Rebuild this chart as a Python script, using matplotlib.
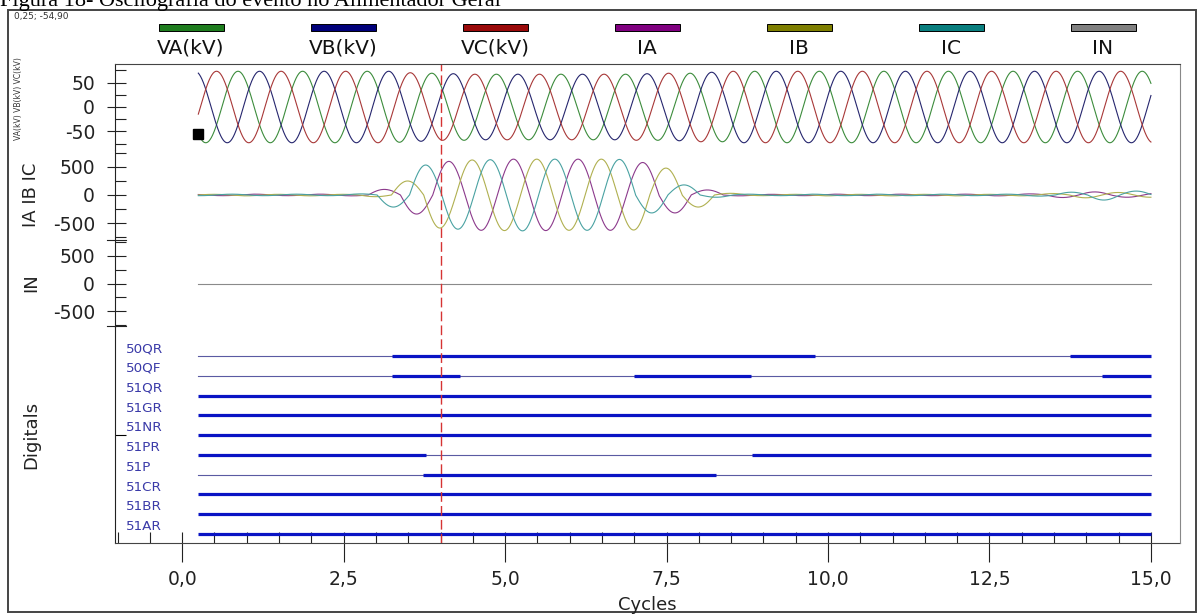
import numpy as np
import matplotlib
matplotlib.use("Agg")
import matplotlib.pyplot as plt
from matplotlib.patches import Rectangle
from matplotlib.lines import Line2D

W, H = 1203, 614

# analog channels, one value per half-cycle lobe (peak)
# each lobe list starts at the last zero crossing at or before t = 0.25 cycle
va_zero, va_sign = 0.115, -1
va_peaks = [73, 73, 73, 73, 73, 73, 72, 69, 68, 67, 67, 67, 67, 67, 68,
            69, 71, 73, 73, 73, 73, 73, 73, 73, 73, 73, 73, 73, 73, 73]
vb_zero, vb_sign = -0.052, 1
vb_peaks = [73, 73, 73, 73, 73, 73, 73, 70, 68, 67, 67, 67, 67, 67, 68,
            69, 71, 73, 73, 73, 73, 73, 73, 73, 73, 73, 73, 73, 73, 73, 73]
vc_zero, vc_sign = -0.218, -1
vc_peaks = [73, 73, 73, 73, 73, 73, 73, 70, 68, 67, 67, 67, 67, 67, 68,
            69, 71, 73, 73, 73, 73, 73, 73, 73, 73, 73, 73, 73, 73, 73, 73]

ia_zero, ia_sign = -0.12, 1
ia_peaks = [12, 12, 15, 12, 15, 15, 100, 340, 600, 630, 640, 635, 640, 630, 580,
            320, 90, 15, 12, 12, 15, 12, 15, 12, 15, 15, 20, 45, 55, 40, 35]
ib_zero, ib_sign = 0.24, 1
ib_peaks = [12, 15, 12, 15, 12, 30, 250, 590, 625, 635, 640, 630, 640, 625, 480,
            215, 30, 12, 12, 15, 12, 15, 12, 15, 12, 15, 25, 50, 45, 40]
ic_zero, ic_sign = 0.02, -1
ic_peaks = [12, 15, 12, 15, 12, 20, 215, 535, 610, 630, 640, 640, 630, 635, 320,
            180, 40, 15, 12, 15, 12, 15, 12, 15, 12, 15, 20, 50, 90, 70]

in_times = [0.25, 15.0]
in_values = [0.0, 0.0]

# digital channels: state at start and the times where they toggle
dig_names = ["50QR", "50QF", "51QR", "51GR", "51NR", "51PR", "51P", "51CR", "51BR", "51AR"]
dig_start = [0, 0, 1, 1, 1, 1, 0, 1, 1, 1]
dig_toggles = [[3.25, 9.8, 13.75], [3.25, 4.3, 7.0, 8.8, 14.25], [], [], [],
               [3.78, 8.82], [3.73, 8.27], [], [], []]

t_start, t_end = 0.25, 15.0
trigger_t = 4.0
cursor_t, cursor_v = 0.25, -54.90

legend_names = ["VA(kV)", "VB(kV)", "VC(kV)", "IA", "IB", "IC", "IN"]
legend_colors = ["#1e7d1e", "#00007a", "#9a0a0a", "#800080", "#7f7f00", "#0a7f7f", "#808080"]
line_colors = ["#3c8c3c", "#26266e", "#a83838", "#8c3a8c", "#b0b050", "#4aa2a2", "#8a8a8a"]

XMIN, XMAX = -1.04, 15.45


def to_fig(x0, y0, x1, y1):
    return [x0 / W, 1 - y1 / H, (x1 - x0) / W, (y1 - y0) / H]


def lobes(t, zero, sign, peaks):
    k = np.floor((t - zero) / 0.5).astype(int)
    return sign * np.asarray(peaks, float)[k] * np.sin(2 * np.pi * (t - zero))


def panel(box, lim, major, minor):
    ax = fig.add_axes(to_fig(*box))
    ax.set_xlim(XMIN, XMAX)
    ax.set_ylim(-lim, lim)
    for s in ["top", "bottom", "right"]:
        ax.spines[s].set_visible(False)
    ax.spines["left"].set_color("#222222")
    ax.set_xticks([])
    ax.set_yticks(major)
    ax.set_yticklabels([str(v) for v in major])
    ax.set_yticks(minor, minor=True)
    ax.yaxis.remove_overlapping_locs = False
    ax.tick_params(axis="y", which="major", direction="out", length=5.8, width=0.8,
                   pad=8.6, labelsize=13.5, colors="#222222")
    ax.tick_params(axis="y", which="minor", direction="in", length=7.9, width=0.8,
                   colors="#222222")
    ax.patch.set_alpha(0)
    return ax


fig = plt.figure(figsize=(W / 100, H / 100), dpi=100)

t = np.linspace(t_start, t_end, 3000)

# voltages
ax_v = panel((115, 64, 1180, 150), 87.8, [50, 0, -50], [75, 50, 25, 0, -25, -50, -75])
for zero, sign, peaks, c in [(va_zero, va_sign, va_peaks, line_colors[0]),
                             (vb_zero, vb_sign, vb_peaks, line_colors[1]),
                             (vc_zero, vc_sign, vc_peaks, line_colors[2])]:
    ax_v.plot(t, lobes(t, zero, sign, peaks), color=c, lw=0.8)
ax_v.plot(cursor_t, cursor_v, "s", ms=7, color="black", clip_on=False, zorder=5)

# phase currents
ax_i = panel((115, 150, 1180, 240), 803, [500, 0, -500],
             [750, 500, 250, 0, -250, -500, -750])
for zero, sign, peaks, c in [(ia_zero, ia_sign, ia_peaks, line_colors[3]),
                             (ib_zero, ib_sign, ib_peaks, line_colors[4]),
                             (ic_zero, ic_sign, ic_peaks, line_colors[5])]:
    ax_i.plot(t, lobes(t, zero, sign, peaks), color=c, lw=0.8)

# neutral
ax_n = panel((115, 240, 1180, 327), 790, [500, 0, -500],
             [750, 500, 250, 0, -250, -500, -750])
ax_n.plot(in_times, in_values, color=line_colors[6], lw=0.8)

# digitals
ax_d = fig.add_axes(to_fig(115, 327, 1180, 543))
ax_d.set_xlim(XMIN, XMAX)
ax_d.set_ylim(-0.455, 10.466)
ax_d.patch.set_alpha(0)
for s in ["top", "right"]:
    ax_d.spines[s].set_visible(False)
ax_d.spines["left"].set_color("#222222")
ax_d.spines["bottom"].set_color("#444444")
ax_d.set_yticks([5])
ax_d.set_yticklabels([])
ax_d.tick_params(axis="y", direction="in", length=7.9, width=0.8)

n = len(dig_names)
for i, (name, s0, tog) in enumerate(zip(dig_names, dig_start, dig_toggles)):
    row = n - 1 - i
    edges = [t_start] + tog + [t_end]
    state = s0
    for a, b in zip(edges[:-1], edges[1:]):
        if state:
            ax_d.plot([a, b], [row, row], color="#0a14c4", lw=2.3, solid_capstyle="butt", zorder=3)
        else:
            ax_d.plot([a, b], [row, row], color="#5a5aa2", lw=0.8, zorder=2)
        state = 1 - state
    ax_d.text(0.0105, row + 0.37, name, transform=ax_d.get_yaxis_transform(),
              fontsize=9.7, color="#3a3aa8", va="center", ha="left")

major_x = [0, 2.5, 5, 7.5, 10, 12.5, 15]
ax_d.set_xticks(major_x)
ax_d.set_xticklabels([f"{v:.1f}".replace(".", ",") for v in major_x])
ax_d.set_xticks(np.arange(-1.0, 15.01, 0.5), minor=True)
ax_d.xaxis.remove_overlapping_locs = False
ax_d.tick_params(axis="x", which="major", direction="out", length=13.7, width=0.8,
                 pad=6.0, labelsize=13.5, colors="#222222")
ax_d.tick_params(axis="x", which="minor", direction="in", length=7.9, width=0.8,
                 colors="#222222")

# overlay for frame and trigger line
ax_o = fig.add_axes(to_fig(115, 64, 1180, 543))
ax_o.set_xlim(XMIN, XMAX)
ax_o.set_ylim(0, 1)
ax_o.patch.set_alpha(0)
ax_o.set_xticks([])
ax_o.set_yticks([])
ax_o.spines["left"].set_visible(False)
ax_o.spines["bottom"].set_visible(False)
ax_o.spines["top"].set_color("#444444")
ax_o.spines["right"].set_color("#888888")
ax_o.axvline(trigger_t, color="#d63333", lw=1.0, dashes=(7, 3))

# axis labels
fig.text(19 / W, 1 - 99 / H, "VA(kV) VB(kV) VC(kV)", rotation=90, fontsize=5.5,
         color="#333333", ha="center", va="center")
fig.text(31 / W, 1 - 195 / H, "IA IB IC", rotation=90, fontsize=13, ha="center", va="center",
         color="#222222")
fig.text(31 / W, 1 - 283 / H, "IN", rotation=90, fontsize=13, ha="center", va="center",
         color="#222222")
fig.text(31 / W, 1 - 435 / H, "Digitals", rotation=90, fontsize=13, ha="center", va="center",
         color="#222222")
fig.text(647 / W, 1 - 605 / H, "Cycles", fontsize=13, ha="center", va="center", color="#222222")

# legend strip
for k, (name, c) in enumerate(zip(legend_names, legend_colors)):
    cx = 191 + 152 * k
    fig.add_artist(Rectangle(((cx - 32) / W, 1 - 31 / H), 65 / W, 7 / H, transform=fig.transFigure,
                             facecolor=c, edgecolor="black", lw=0.7))
    fig.text(cx / W, 1 - 48 / H, name, fontsize=14.5, ha="center", va="center", color="#111111")

# cursor readout and outer frame
fig.text(14 / W, 1 - 17 / H, f"{cursor_t:.2f}; {cursor_v:.2f}".replace(".", ","),
         fontsize=6.5, color="#333333", ha="left", va="center")
fig.add_artist(Rectangle((8 / W, 1 - 612 / H), 1188 / W, 602 / H, transform=fig.transFigure,
                         fill=False, edgecolor="#444444", lw=1.4))
for yy in (240, 326):
    fig.add_artist(Line2D([107 / W, 126 / W], [1 - yy / H, 1 - yy / H], color="#222222", lw=0.8))

fig.text(0.0, 1 - 6 / H, "Figura 18- Oscilografia do evento no Alimentador Geral",
         family="Liberation Serif", fontsize=16, ha="left", va="baseline", color="black")

fig.savefig("out.png", dpi=100)
